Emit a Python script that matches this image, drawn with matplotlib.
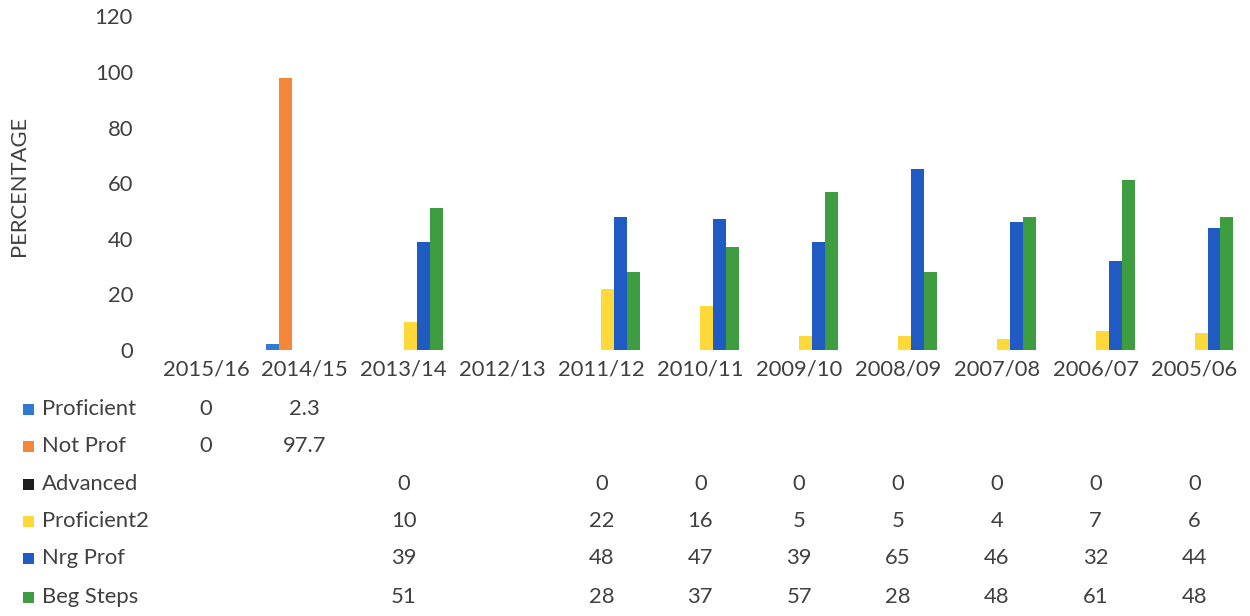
import matplotlib.pyplot as plt
import matplotlib.transforms as mtransforms
from matplotlib.patches import Rectangle
import numpy as np

plt.rcParams['font.family'] = ['Lato', 'DejaVu Sans']

years = ["2015/16", "2014/15", "2013/14", "2012/13", "2011/12", "2010/11",
         "2009/10", "2008/09", "2007/08", "2006/07", "2005/06"]
nan = np.nan
proficient = [0, 2.3, nan, nan, nan, nan, nan, nan, nan, nan, nan]
not_prof = [0, 97.7, nan, nan, nan, nan, nan, nan, nan, nan, nan]
advanced = [nan, nan, 0, nan, 0, 0, 0, 0, 0, 0, 0]
proficient2 = [nan, nan, 10, nan, 22, 16, 5, 5, 4, 7, 6]
nrg_prof = [nan, nan, 39, nan, 48, 47, 39, 65, 46, 32, 44]
beg_steps = [nan, nan, 51, nan, 28, 37, 57, 28, 48, 61, 48]

series = [
    ("Proficient", proficient, "#2F7BD4"),
    ("Not Prof", not_prof, "#F5863A"),
    ("Advanced", advanced, "#1E1E1E"),
    ("Proficient2", proficient2, "#FFD83A"),
    ("Nrg Prof", nrg_prof, "#1F5BC2"),
    ("Beg Steps", beg_steps, "#3E9C41"),
]

W, H = 1250, 616
fig = plt.figure(figsize=(W / 100, H / 100), dpi=100)
ax = fig.add_axes([156.5 / W, 1 - 350 / H, (1244 - 156.5) / W, (350 - 16.5) / H])

text_color = "#404040"
fs = 15.8
x = np.arange(len(years))
bw = 0.131
for k, (name, vals, col) in enumerate(series):
    v = np.array(vals, dtype=float)
    ax.bar(x + (k - 2.5) * bw, np.nan_to_num(v), width=bw, color=col, linewidth=0)

ax.set_xlim(-0.5, len(years) - 0.5)
ax.set_ylim(0, 120)
ax.set_yticks(range(0, 121, 20))
ax.set_xticks(x)
ax.set_xticklabels(years)
for s in ax.spines.values():
    s.set_visible(False)
ax.tick_params(axis='both', length=0, labelsize=fs, colors=text_color)
ax.tick_params(axis='y', pad=17)
ax.tick_params(axis='x', pad=7)
ax.set_ylabel("PERCENTAGE", fontsize=fs, color=text_color)
ax.yaxis.set_label_coords(29 / W, 1 - 186 / H, transform=fig.transFigure)

# data table under the chart
trans = mtransforms.blended_transform_factory(ax.transData, fig.transFigure)
row_y = [409, 446, 484, 521, 558, 597]
for (name, vals, col), ry in zip(series, row_y):
    yf = 1 - ry / H
    fig.add_artist(Rectangle((23 / W, yf - 5.5 / H), 11 / W, 11 / H,
                             transform=fig.transFigure, color=col, lw=0))
    fig.text(42 / W, yf, name, fontsize=fs, color=text_color, va='center', ha='left')
    for i, v in enumerate(vals):
        if not np.isnan(v):
            ax.text(i, yf, f"{v:g}", transform=trans, fontsize=fs, color=text_color,
                    ha='center', va='center', clip_on=False)

fig.savefig("out.png", dpi=100)
